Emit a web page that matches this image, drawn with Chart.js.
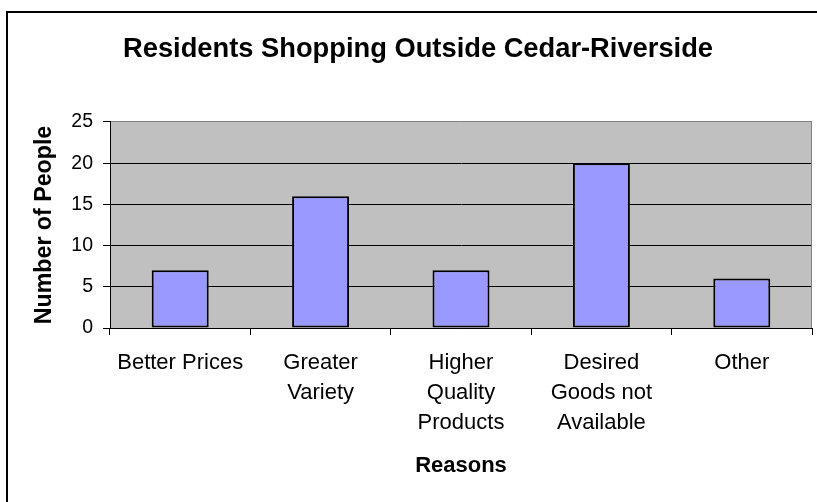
<!DOCTYPE html>
<html>
<head>
<meta charset="utf-8">
<script src="https://cdn.jsdelivr.net/npm/chart.js@4"></script>
<style>
    html, body { margin: 0; padding: 0; background: #fff; overflow: hidden; }
    #frame { position: absolute; left: 6px; top: 11px; width: 1000px; height: 1000px; border: 2px solid #000; }
    #wrap { position: absolute; left: 0; top: 0; }
</style>
</head>
<body>
<div id="frame"></div>
<div id="wrap"><canvas id="reasonsChart" width="836" height="502"></canvas></div>
<script>
//data
var reasons = [
    'Better Prices',
    ['Greater', 'Variety'],
    ['Higher', 'Quality', 'Products'],
    ['Desired', 'Goods not', 'Available'],
    'Other'
];
var people = [7, 16, 7, 20, 6];
var yTicks = [0, 5, 10, 15, 20, 25];

Chart.defaults.font.family = "'Liberation Sans', Arial, sans-serif";
Chart.defaults.color = '#000';

//gray plot area with a gray frame on the right, like excel
var plotArea = {
    id: 'plotArea',
    beforeDraw: function(chart) {
        var a = chart.chartArea, c = chart.ctx;
        c.save();
        c.fillStyle = '#C0C0C0';
        c.fillRect(a.left, a.top, a.right - a.left, a.bottom - a.top);
        c.restore();
    },
    afterDraw: function(chart) {
        var a = chart.chartArea, c = chart.ctx;
        c.save();
        c.strokeStyle = '#808080';
        c.lineWidth = 1;
        c.beginPath();
        c.moveTo(Math.round(a.right) - 0.5, a.top);
        c.lineTo(Math.round(a.right) - 0.5, a.bottom);
        c.stroke();
        c.restore();
    }
};

var ctx = document.getElementById('reasonsChart').getContext('2d');
var myChart = new Chart(ctx, {
    type: 'bar',
    data: {
        labels: reasons,
        datasets: [{
            label: 'Number of People',
            data: people,
            backgroundColor: '#9999FF',
            borderColor: '#000',
            borderWidth: 2,
            borderSkipped: false,
            categoryPercentage: 1,
            barPercentage: 0.406
        }]
    },
    options: {
        responsive: false,
        animation: false,
        devicePixelRatio: 1,
        layout: {
            padding: { left: 24, right: 24, top: 0, bottom: 0 }
        },
        plugins: {
            legend: { display: false },
            tooltip: { enabled: false },
            title: {
                display: true,
                text: 'Residents Shopping Outside Cedar-Riverside',
                font: { size: 27.3, weight: 'bold' },
                color: '#000',
                padding: { top: 32.6, bottom: 56.6 }
            }
        },
        scales: {
            x: {
                grid: {
                    drawOnChartArea: false,
                    drawTicks: true,
                    tickLength: 7,
                    tickColor: '#000',
                    offset: true
                },
                border: { color: '#000', width: 1 },
                ticks: {
                    font: { size: 22, lineHeight: 1.36 },
                    color: '#000',
                    padding: 13,
                    maxRotation: 0,
                    autoSkip: false
                },
                title: {
                    display: true,
                    text: 'Reasons',
                    font: { size: 22, weight: 'bold' },
                    color: '#000',
                    padding: { top: 0, bottom: 23 }
                },
                afterFit: function(scale) { scale.height = 174; }
            },
            y: {
                min: 0,
                max: 25,
                afterBuildTicks: function(scale) {
                    scale.ticks = yTicks.map(function(v) { return { value: v }; });
                },
                grid: {
                    color: function(c) { return c.tick && c.tick.value === 25 ? '#808080' : '#000'; },
                    tickColor: '#000',
                    tickLength: 7,
                    lineWidth: 1
                },
                border: { color: '#000', width: 1 },
                ticks: {
                    font: { size: 19.5 },
                    color: '#000',
                    padding: 10
                },
                title: {
                    display: true,
                    text: 'Number of People',
                    font: { size: 23.2, weight: 'bold' },
                    color: '#000',
                    padding: { top: 7, bottom: 0 }
                },
                afterFit: function(scale) { scale.width = 86; }
            }
        }
    },
    plugins: [plotArea]
});
</script>
</body>
</html>
